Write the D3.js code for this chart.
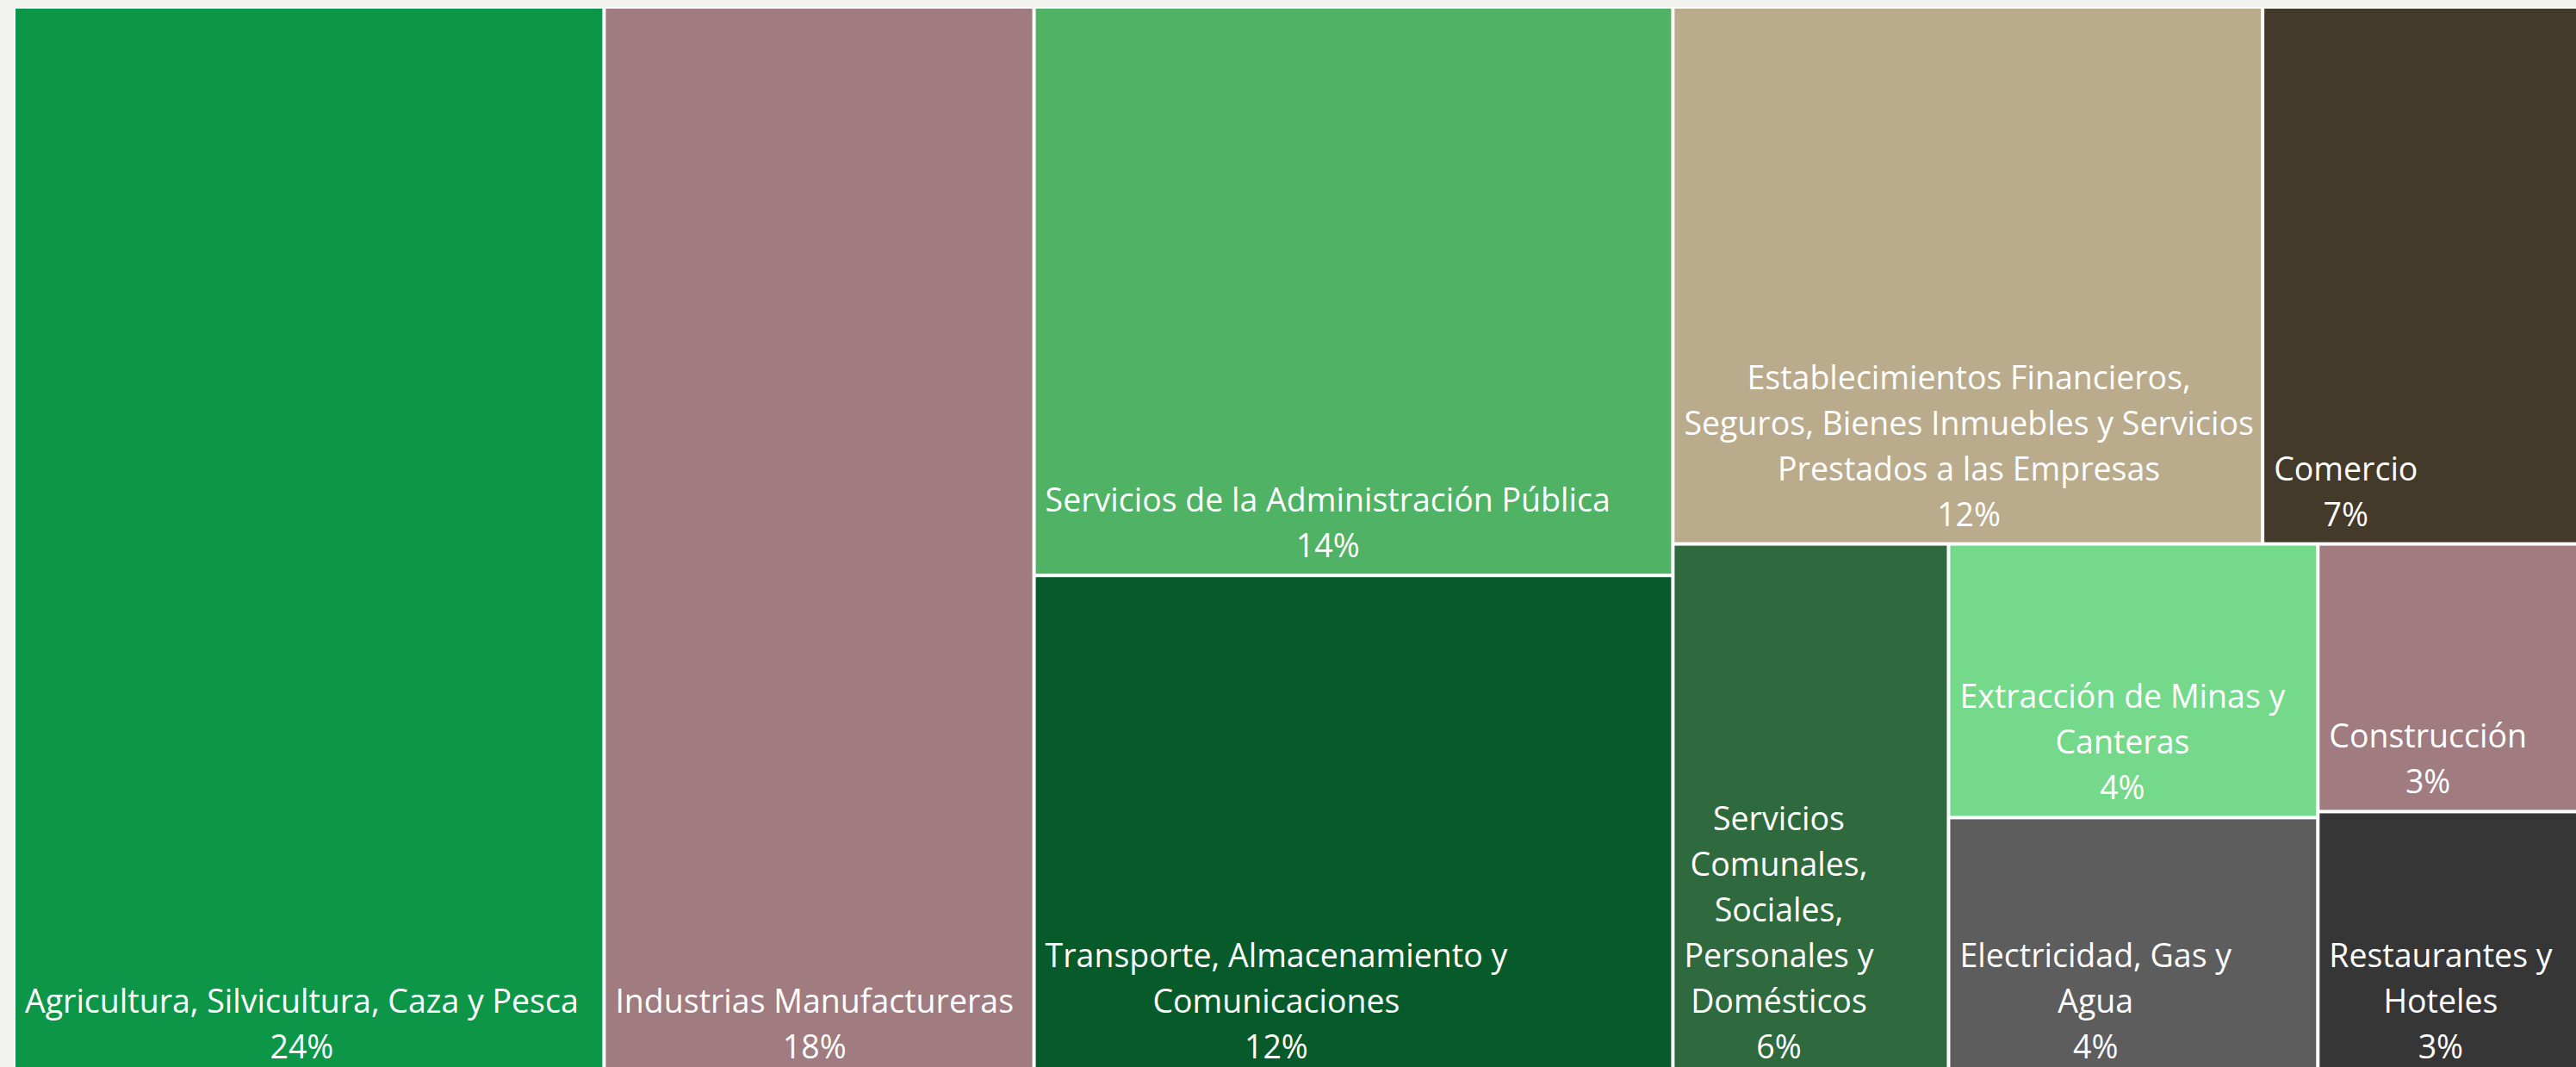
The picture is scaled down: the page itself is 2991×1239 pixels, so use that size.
<!DOCTYPE html>
<html>
<head>
<meta charset="utf-8">
<script src="https://cdn.jsdelivr.net/npm/d3@7.9.0/dist/d3.min.js"></script>
<style>
  html, body { margin: 0; padding: 0; background: #f2f2ee; overflow: hidden; }
  svg { display: block; }
  .label { fill: #fff; font-family: "Open Sans", sans-serif; font-size: 37.5px; }
</style>
</head>
<body>
<svg id="chart" width="2991" height="1239"></svg>
<script>
// sectors, as printed in the cells (line breaks as in the picture)
const labelLines = [
  ['Agricultura, Silvicultura, Caza y Pesca'],
  ['Industrias Manufactureras'],
  ['Servicios de la Administración Pública'],
  ['Transporte, Almacenamiento y', 'Comunicaciones'],
  ['Establecimientos Financieros,', 'Seguros, Bienes Inmuebles y Servicios', 'Prestados a las Empresas'],
  ['Comercio'],
  ['Servicios', 'Comunales,', 'Sociales,', 'Personales y', 'Domésticos'],
  ['Extracción de Minas y', 'Canteras'],
  ['Electricidad, Gas y', 'Agua'],
  ['Construcción'],
  ['Restaurantes y', 'Hoteles']
];
const categories = labelLines.map(l => l.join(' '));

// share (%)
const values = [24.3, 17.7, 13.98, 12.32, 12.19, 6.94, 5.65, 3.89, 3.68, 2.89, 2.86];

const colors = ['#0e9648', '#a07b80', '#4fb264', '#075b2b', '#b9ab8b', '#443a29',
                '#2e6a3e', '#75d98b', '#5d5d5d', '#a07b80', '#363636'];

// how the cells are grouped in the picture (columns / rows of the treemap)
const groupOf = ['root', 'root', 'colA', 'colA', 'rowTop', 'rowTop', 'rowBottom', 'colC', 'colC', 'colD', 'colD'];
const groupIds = ['colA', 'colB', 'rowTop', 'rowBottom', 'colC', 'colD'];
const groupParents = ['root', 'root', 'colB', 'colB', 'rowBottom', 'rowBottom'];

const offsetX = 18, offsetY = 10, tmWidth = 2997, tmHeight = 1238;
const pad = 11, bottomPad = 19, lineH = 53;

const svg = d3.select('#chart');

let rows = [{ id: 'root', parent: null }];
groupIds.forEach((g, i) => rows.push({ id: g, parent: groupParents[i] }));
categories.forEach((c, i) => rows.push({ id: c, parent: groupOf[i], value: values[i], index: i }));

const root = d3.stratify().id(d => d.id).parentId(d => d.parent)(rows);
root.sum(d => d.value || 0);
root.eachAfter(n => n.rank = n.children ? d3.min(n.children, c => c.rank) : n.data.index);
root.sort((a, b) => a.rank - b.rank);

d3.treemap()
  .tile(d3.treemapSliceDice)
  .size([tmWidth, tmHeight])
  .paddingInner(4)(root);

const chart = svg.append('g').attr('transform', `translate(${offsetX},${offsetY})`);

// white frame / gaps
chart.append('rect')
  .attr('x', root.x0).attr('y', root.y0)
  .attr('width', root.x1 - root.x0).attr('height', root.y1 - root.y0)
  .attr('fill', '#fff').attr('stroke', '#fff').attr('stroke-width', 4);

const leaves = root.leaves();

chart.selectAll('rect.cell')
  .data(leaves)
  .join('rect')
  .attr('class', 'cell')
  .attr('x', d => d.x0).attr('y', d => d.y0)
  .attr('width', d => d.x1 - d.x0).attr('height', d => d.y1 - d.y0)
  .attr('fill', d => colors[d.data.index]);

leaves.forEach(d => {
  const i = d.data.index;
  const lines = labelLines[i].concat([Math.round(values[i]) + '%']);
  const lg = chart.append('g');
  const texts = lg.selectAll('text')
    .data(lines)
    .join('text')
    .attr('class', 'label')
    .attr('text-anchor', 'middle')
    .text(t => t);
  const w = d3.max(texts.nodes(), n => n.getComputedTextLength());
  texts
    .attr('x', d.x0 + pad + w / 2)
    .attr('y', (t, j) => d.y1 - bottomPad - (lines.length - 1 - j) * lineH);
});
</script>
</body>
</html>
